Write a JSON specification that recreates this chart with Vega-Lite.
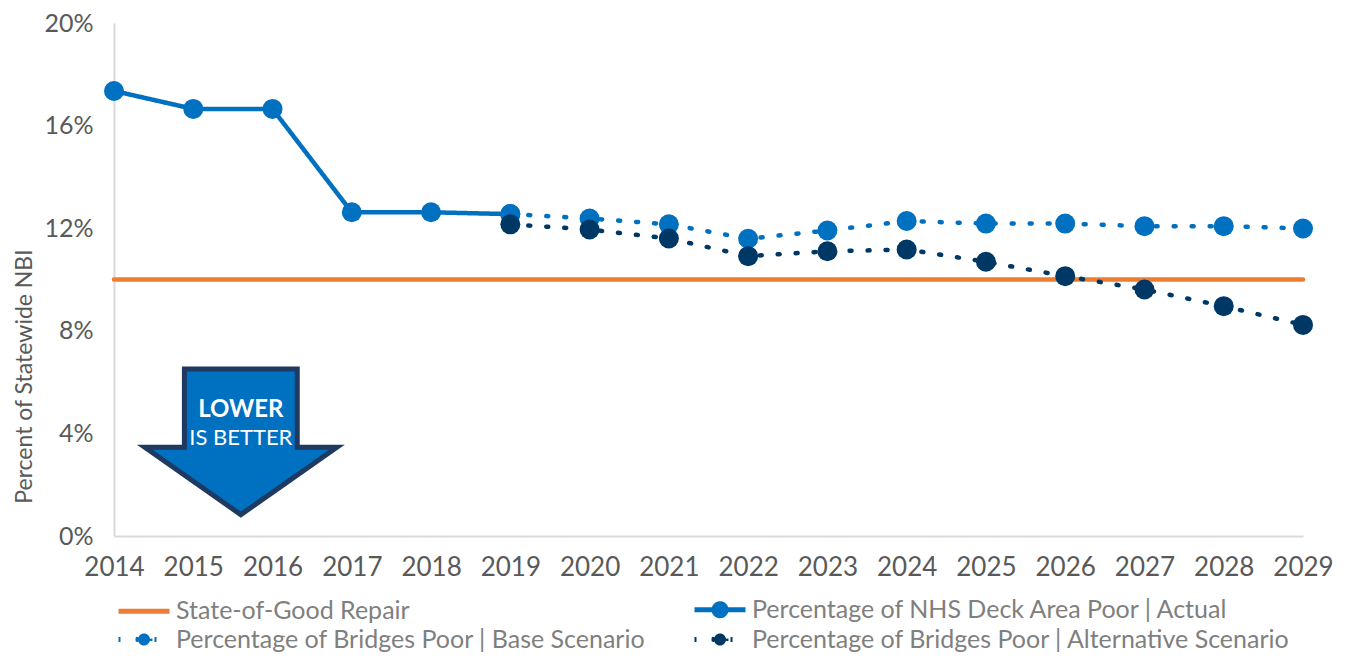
{
  "$schema": "https://vega.github.io/schema/vega-lite/v6.json",
  "width": 1189,
  "height": 513,
  "autosize": {"type": "none"},
  "padding": {"left": 114, "top": 23, "right": 48, "bottom": 122},
  "background": "white",
  "config": {"font": "Lato", "view": {"stroke": null}},
  "datasets": {
    "series": [
      {"year": 2014, "value": 10, "series": "State-of-Good Repair"},
      {"year": 2029, "value": 10, "series": "State-of-Good Repair"},
      {"year": 2014, "value": 17.35, "series": "Percentage of NHS Deck Area Poor | Actual"},
      {"year": 2015, "value": 16.65, "series": "Percentage of NHS Deck Area Poor | Actual"},
      {"year": 2016, "value": 16.65, "series": "Percentage of NHS Deck Area Poor | Actual"},
      {"year": 2017, "value": 12.62, "series": "Percentage of NHS Deck Area Poor | Actual"},
      {"year": 2018, "value": 12.62, "series": "Percentage of NHS Deck Area Poor | Actual"},
      {"year": 2019, "value": 12.55, "series": "Percentage of NHS Deck Area Poor | Actual"},
      {"year": 2019, "value": 12.55, "series": "Percentage of Bridges Poor | Base Scenario"},
      {"year": 2020, "value": 12.38, "series": "Percentage of Bridges Poor | Base Scenario"},
      {"year": 2021, "value": 12.15, "series": "Percentage of Bridges Poor | Base Scenario"},
      {"year": 2022, "value": 11.59, "series": "Percentage of Bridges Poor | Base Scenario"},
      {"year": 2023, "value": 11.91, "series": "Percentage of Bridges Poor | Base Scenario"},
      {"year": 2024, "value": 12.28, "series": "Percentage of Bridges Poor | Base Scenario"},
      {"year": 2025, "value": 12.18, "series": "Percentage of Bridges Poor | Base Scenario"},
      {"year": 2026, "value": 12.18, "series": "Percentage of Bridges Poor | Base Scenario"},
      {"year": 2027, "value": 12.08, "series": "Percentage of Bridges Poor | Base Scenario"},
      {"year": 2028, "value": 12.08, "series": "Percentage of Bridges Poor | Base Scenario"},
      {"year": 2029, "value": 11.99, "series": "Percentage of Bridges Poor | Base Scenario"},
      {"year": 2019, "value": 12.15, "series": "Percentage of Bridges Poor | Alternative Scenario"},
      {"year": 2020, "value": 11.95, "series": "Percentage of Bridges Poor | Alternative Scenario"},
      {"year": 2021, "value": 11.6, "series": "Percentage of Bridges Poor | Alternative Scenario"},
      {"year": 2022, "value": 10.91, "series": "Percentage of Bridges Poor | Alternative Scenario"},
      {"year": 2023, "value": 11.1, "series": "Percentage of Bridges Poor | Alternative Scenario"},
      {"year": 2024, "value": 11.17, "series": "Percentage of Bridges Poor | Alternative Scenario"},
      {"year": 2025, "value": 10.69, "series": "Percentage of Bridges Poor | Alternative Scenario"},
      {"year": 2026, "value": 10.13, "series": "Percentage of Bridges Poor | Alternative Scenario"},
      {"year": 2027, "value": 9.61, "series": "Percentage of Bridges Poor | Alternative Scenario"},
      {"year": 2028, "value": 8.96, "series": "Percentage of Bridges Poor | Alternative Scenario"},
      {"year": 2029, "value": 8.23, "series": "Percentage of Bridges Poor | Alternative Scenario"}
    ]
  },
  "encoding": {
    "x": {
      "field": "year",
      "type": "quantitative",
      "scale": {"domain": [2014, 2029], "nice": false, "zero": false},
      "axis": {
        "title": null,
        "values": [2014, 2015, 2016, 2017, 2018, 2019, 2020, 2021, 2022, 2023, 2024, 2025, 2026, 2027, 2028, 2029],
        "format": "d",
        "grid": false,
        "ticks": false,
        "domainColor": "#D9D9D9",
        "domainWidth": 2,
        "labelFontSize": 26,
        "labelColor": "#595959",
        "labelPadding": 18,
        "labelFlush": false,
        "labelOverlap": false
      }
    },
    "y": {
      "field": "value",
      "type": "quantitative",
      "scale": {"domain": [0, 20], "nice": false},
      "axis": {
        "title": "Percent of Statewide NBI",
        "values": [0, 4, 8, 12, 16, 20],
        "labelExpr": "datum.value + '%'",
        "grid": false,
        "ticks": false,
        "domainColor": "#D9D9D9",
        "domainWidth": 2,
        "labelFontSize": 25,
        "labelColor": "#595959",
        "labelPadding": 21,
        "titleFontSize": 23,
        "titleFontWeight": "normal",
        "titleColor": "#595959",
        "titleX": -90,
        "titleY": 353,
        "titleAngle": -90,
        "titleAlign": "center",
        "titleBaseline": "middle"
      }
    }
  },
  "layer": [
    {
      "data": {"name": "series"},
      "mark": {"type": "line", "strokeWidth": 4.5, "strokeCap": "round", "strokeJoin": "round"},
      "encoding": {
        "color": {
          "field": "series",
          "type": "nominal",
          "scale": {
            "domain": ["State-of-Good Repair", "Percentage of NHS Deck Area Poor | Actual", "Percentage of Bridges Poor | Base Scenario", "Percentage of Bridges Poor | Alternative Scenario"],
            "range": ["#ED7D31", "#0070C0", "#0070C0", "#003865"]
          },
          "legend": {
            "title": null,
            "orient": "none",
            "legendX": 0,
            "legendY": 574,
            "direction": "horizontal",
            "columns": 2,
            "columnPadding": 38,
            "rowPadding": -3,
            "symbolType": "stroke",
            "symbolSize": 400,
            "symbolStrokeWidth": 5,
            "labelFontSize": 25,
            "labelColor": "#7F7F7F",
            "labelLimit": 700,
            "labelOffset": 37,
            "encode": {
              "symbols": {
                "update": {
                  "shape": {"signal": "datum.value === 'State-of-Good Repair' ? 'M-0.8,0H4.3' : 'M-0.8,0H4.3M1.15,0A0.6,0.6,0,1,1,2.35,0A0.6,0.6,0,1,1,1.15,0Z'"},
                  "fill": {"signal": "datum.value === 'State-of-Good Repair' ? 'transparent' : scale('color', datum.value)"}
                }
              }
            }
          }
        },
        "strokeDash": {
          "field": "series",
          "type": "nominal",
          "scale": {
            "domain": ["State-of-Good Repair", "Percentage of NHS Deck Area Poor | Actual", "Percentage of Bridges Poor | Base Scenario", "Percentage of Bridges Poor | Alternative Scenario"],
            "range": [[1, 0], [1, 0], [2, 16], [2, 16]]
          },
          "legend": null
        }
      }
    },
    {
      "data": {"name": "series"},
      "transform": [{"filter": "datum.series !== 'State-of-Good Repair'"}],
      "mark": {"type": "point", "filled": true, "opacity": 1, "size": 400, "shape": "circle"},
      "encoding": {
        "color": {"field": "series", "type": "nominal", "legend": null}
      }
    },
    {
      "data": {"values": [{"year": 2015.6, "value": 3.65}]},
      "mark": {
        "type": "point",
        "filled": true,
        "opacity": 1,
        "fill": "#0070C0",
        "stroke": "#1F3A60",
        "strokeWidth": 5,
        "strokeJoin": "miter",
        "size": 39204,
        "shape": "M-0.57,-0.74L0.57,-0.74L0.57,0.05L0.97,0.05L0,0.73L-0.97,0.05L-0.57,0.05Z"
      }
    },
    {
      "data": {"values": [{"year": 2015.6, "value": 4.92, "label": "LOWER"}]},
      "mark": {"type": "text", "color": "white", "fontSize": 24, "fontWeight": "bold", "align": "center", "baseline": "middle"},
      "encoding": {"text": {"field": "label"}}
    },
    {
      "data": {"values": [{"year": 2015.6, "value": 3.83, "label": "IS BETTER"}]},
      "mark": {"type": "text", "color": "white", "fontSize": 22, "align": "center", "baseline": "middle"},
      "encoding": {"text": {"field": "label"}}
    }
  ]
}
